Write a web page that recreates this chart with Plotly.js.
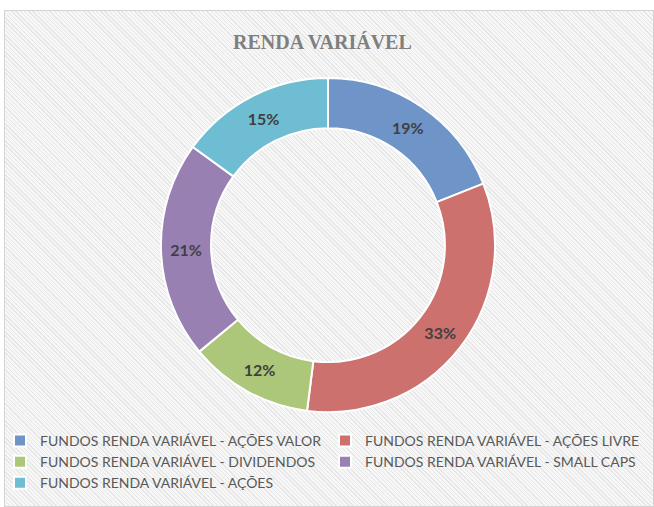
<!DOCTYPE html>
<html>
<head>
<meta charset="utf-8">
<script src="https://cdn.plot.ly/plotly-3.0.1.min.js"></script>
<style>
  html, body { margin:0; padding:0; background:#ffffff; width:654px; height:507px; overflow:hidden; }
  #bg { position:absolute; left:4px; top:10px; width:650px; height:497px; box-sizing:border-box;
        border:1px solid #d4d4d4;
        background: repeating-linear-gradient(45deg, #e6e6e6 0px, #e6e6e6 1px, #f7f7f7 1px, #f7f7f7 3px); }
  #chart { position:absolute; left:0; top:0; width:654px; height:507px; }
</style>
</head>
<body>
<div id="bg"></div>
<div id="chart"></div>
<script>
const categories = [
  "FUNDOS RENDA VARIÁVEL - AÇÕES VALOR",
  "FUNDOS RENDA VARIÁVEL - AÇÕES LIVRE",
  "FUNDOS RENDA VARIÁVEL - DIVIDENDOS",
  "FUNDOS RENDA VARIÁVEL - SMALL CAPS",
  "FUNDOS RENDA VARIÁVEL - AÇÕES"
];
const values = [19, 33, 12, 21, 15];
const colors = ["#6f95c8", "#cd716f", "#adc77a", "#9880b3", "#6fbdd2"];

const data = [{
  type: "pie",
  labels: categories,
  values: values,
  hole: 0.70,
  sort: false,
  direction: "clockwise",
  rotation: 0,
  marker: { colors: colors, line: { color: "#ffffff", width: 2 } },
  textinfo: "percent",
  texttemplate: "%{percent:.0%}",
  textposition: "inside",
  insidetextorientation: "horizontal",
  textfont: { family: "Lato", size: 16, color: "#404040", weight: "bold" },
  hoverinfo: "label+percent",
  domain: { x: [0.246, 0.757], y: [0.187, 0.846] }
}];

const layout = {
  width: 654, height: 507,
  margin: { l: 0, r: 0, t: 0, b: 0, autoexpand: false },
  paper_bgcolor: "rgba(0,0,0,0)",
  plot_bgcolor: "rgba(0,0,0,0)",
  title: {
    text: "<b>RENDA VARIÁVEL</b>",
    font: { family: "Liberation Serif", size: 20, color: "#7f7f7f" },
    x: 0.493, xanchor: "center",
    y: 0.917, yanchor: "middle"
  },
  showlegend: true,
  legend: {
    orientation: "h",
    x: 0.0, xanchor: "left",
    y: 0.162, yanchor: "top",
    entrywidth: 280,
    entrywidthmode: "pixels",
    font: { family: "Lato", size: 14, color: "#595959" },
    bgcolor: "rgba(0,0,0,0)",
    traceorder: "normal"
  }
};

Plotly.newPlot("chart", data, layout, { displayModeBar: false, staticPlot: true });
</script>
</body>
</html>
